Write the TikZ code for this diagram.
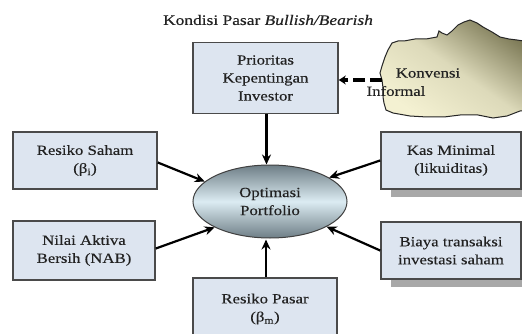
\documentclass[tikz,border=0pt]{standalone}
\usepackage{fontspec}
\setmainfont{Liberation Serif}[FakeStretch=1.2,FakeBold=0.3]
\usetikzlibrary{arrows.meta,shapes.geometric}
\definecolor{boxfill}{HTML}{DDE5F0}
\definecolor{boxline}{HTML}{4A4A4A}
\definecolor{shadowgray}{HTML}{A8A8A8}
\definecolor{ellgray}{HTML}{6E7E86}
\definecolor{elllight}{HTML}{DCEBF2}
\definecolor{clouddark}{HTML}{7E7B58}
\definecolor{cloudlight}{HTML}{F4F1D2}
\definecolor{txt}{HTML}{222222}
\tikzset{
  box/.style={draw=boxline, fill=boxfill, line width=1.6pt, align=center,
    text=txt, inner sep=0pt, font=\fontsize{14}{18}\selectfont},
  lbl/.style={text=txt, inner sep=0pt, font=\fontsize{14}{18}\selectfont},
  arr/.style={line width=2.2pt, -{Stealth[length=10pt,width=9pt]}},
  dasharr/.style={line width=3.2pt, dash pattern=on 12pt off 5pt,
    -{Stealth[length=7pt,width=9pt]}},
}
\begin{document}
\begin{tikzpicture}[x=1pt,y=-1pt]
\useasboundingbox (0,0) rectangle (522,334);
\fill[white] (0,0) rectangle (522,334);

% title
\node[lbl, font=\fontsize{14.5}{18}\selectfont] (title) at (268,20) {Kondisi Pasar \textit{Bullish/Bearish}};

% cloud
\shade[top color=clouddark, bottom color=cloudlight, middle color=cloudlight!80!clouddark, shading angle=-35, draw=black!85, line width=1pt]
  (392,43) -- (398,41) -- (404,41) -- (415,39) -- (426,39) -- (437,37) -- (439,31) -- (442,33) -- (447,35)
  -- (452,31) -- (458,25) -- (464,22) -- (470,20) -- (477,23) -- (483,27) -- (492,32) -- (500,37)
  -- (509,39) -- (517,40) -- (530,42) -- (530,110) -- (520,111) -- (507,116) -- (493,118)
  -- (478,115) -- (460,115) -- (444,117) -- (427,117) -- (410,116) -- (393,113) -- (386,110)
  -- (384,103) -- (383,97) -- (383,88) -- (382,80) -- (380,73) -- (382,66) -- (385,57) -- (388,50) -- cycle;
\coordinate (cl) at (382,80);

% boxes
\node[box, minimum width=145pt, minimum height=71pt] (top) at (265.5,78) {Prioritas\\Kepentingan\\Investor};
\node[box, minimum width=144pt, minimum height=57pt] (rs) at (85,160.5) {Resiko Saham\\(β\textsubscript{i})};
\node[box, minimum width=142pt, minimum height=59pt] (nab) at (84,250.5) {Nilai Aktiva\\Bersih (NAB)};
\fill[shadowgray] (391,140) rectangle (530,197);
\node[box, minimum width=140pt, minimum height=57pt] (kas) at (451,160.5) {Kas Minimal\\(likuiditas)};
\fill[shadowgray] (391,231) rectangle (530,287);
\node[box, minimum width=140pt, minimum height=57pt] (biaya) at (451,250.5) {Biaya transaksi\\investasi saham};
\node[box, minimum width=144pt, minimum height=62pt] (rp) at (265,309) {Resiko Pasar\\(β\textsubscript{m})};

% ellipse
\node[ellipse, draw=black!75, line width=1pt, top color=ellgray, bottom color=ellgray, middle color=elllight,
  minimum width=154pt, minimum height=73pt, inner sep=0pt, align=center, text=txt,
  font=\fontsize{14}{18}\selectfont] (opt) at (270,201.5) {Optimasi\\Portfolio};

% cloud text
\node[lbl] (konv) at (428,73) {Konvensi};
\node[lbl] (inf) at (396,91) {Informal};

% connectors
\draw[dasharr] (cl) -- (cl -| top.east);
\draw[arr] ([xshift=1pt]top.south) -- ([xshift=1pt]top.south |- opt.north);
\draw[arr] ([xshift=1pt]rp.north) -- ([xshift=1pt,yshift=-1pt]rp.north |- opt.south);
\draw[arr] ([yshift=-2pt]rs.east) -- (opt.163);
\draw[arr] ([yshift=2pt]nab.east) -- (opt.205);
\draw[arr] (kas.west) -- (opt.22);
\draw[arr] (biaya.west) -- (opt.336);
\end{tikzpicture}
\end{document}
